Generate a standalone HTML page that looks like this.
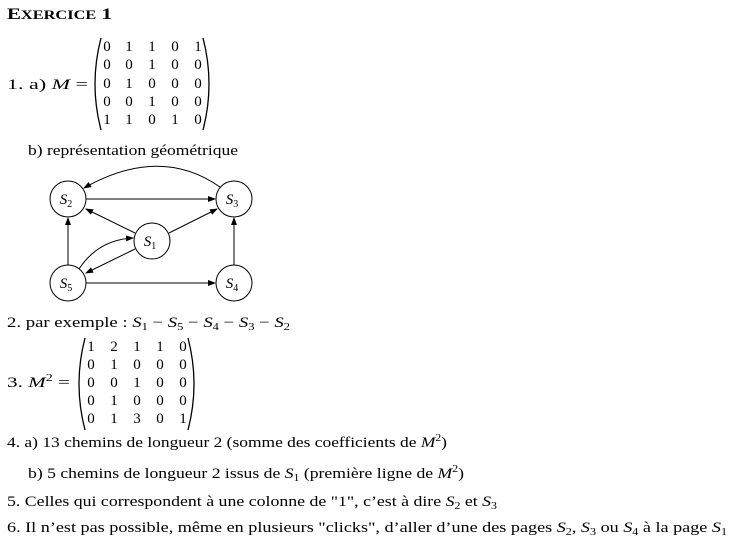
<!DOCTYPE html>
<html><head><meta charset="utf-8"><style>
html,body{margin:0;padding:0;background:#fff}
svg{display:block}
text{font-family:"Liberation Serif",serif;font-size:15px;fill:#000}
.i{font-style:italic}
.s{font-size:10px}
</style></head><body>
<svg width="729" height="548" viewBox="0 0 729 548" xmlns="http://www.w3.org/2000/svg">
<defs><marker id="a" markerWidth="8" markerHeight="6" refX="7" refY="3" orient="auto" markerUnits="userSpaceOnUse"><path d="M0,0 L8,3 L0,6 z" fill="#000"/></marker></defs>
<text x="7" y="19" style="font-weight:bold;font-size:16px" textLength="105" lengthAdjust="spacingAndGlyphs">E<tspan style="font-size:12.5px">XERCICE</tspan> 1</text>

<text x="7" y="89" textLength="81" lengthAdjust="spacingAndGlyphs">1.  a)  <tspan class="i">M</tspan> =</text>
<path d="M101,38 Q89,84 101,130" fill="none" stroke="#000" stroke-width="1.3"/>
<path d="M203,38 Q215,84 203,130" fill="none" stroke="#000" stroke-width="1.3"/>
<g text-anchor="middle">
<text y="51"><tspan x="107">0</tspan><tspan x="129">1</tspan><tspan x="152">1</tspan><tspan x="175">0</tspan><tspan x="198">1</tspan></text>
<text y="69"><tspan x="107">0</tspan><tspan x="129">0</tspan><tspan x="152">1</tspan><tspan x="175">0</tspan><tspan x="198">0</tspan></text>
<text y="88"><tspan x="107">0</tspan><tspan x="129">1</tspan><tspan x="152">0</tspan><tspan x="175">0</tspan><tspan x="198">0</tspan></text>
<text y="106"><tspan x="107">0</tspan><tspan x="129">0</tspan><tspan x="152">1</tspan><tspan x="175">0</tspan><tspan x="198">0</tspan></text>
<text y="124"><tspan x="107">1</tspan><tspan x="129">1</tspan><tspan x="152">0</tspan><tspan x="175">1</tspan><tspan x="198">0</tspan></text>
</g>
<text x="28" y="155" textLength="210" lengthAdjust="spacingAndGlyphs">b)  représentation géométrique</text>

<g fill="none" stroke="#000" stroke-width="1">
<circle cx="68" cy="199" r="18"/><circle cx="234" cy="199" r="18"/>
<circle cx="152" cy="241" r="18"/><circle cx="68" cy="283" r="18"/><circle cx="234" cy="283" r="18"/>
<line x1="86" y1="199" x2="215" y2="199" marker-end="url(#a)"/>
<line x1="86" y1="283" x2="215" y2="283" marker-end="url(#a)"/>
<line x1="68" y1="265" x2="68" y2="218" marker-end="url(#a)"/>
<line x1="234" y1="265" x2="234" y2="218" marker-end="url(#a)"/>
<line x1="135" y1="233" x2="86" y2="209" marker-end="url(#a)"/>
<line x1="169" y1="233" x2="217" y2="209" marker-end="url(#a)"/>
<line x1="135" y1="249" x2="86" y2="273" marker-end="url(#a)"/>
<path d="M79,269 Q98,240 133,238" marker-end="url(#a)"/>
<path d="M220,187 Q160,145 84,188" marker-end="url(#a)"/>
</g>
<g class="i" text-anchor="middle">
<text x="66" y="204">S<tspan class="s" dy="3" font-style="normal">2</tspan></text>
<text x="232" y="204">S<tspan class="s" dy="3" font-style="normal">3</tspan></text>
<text x="150" y="246">S<tspan class="s" dy="3" font-style="normal">1</tspan></text>
<text x="66" y="288">S<tspan class="s" dy="3" font-style="normal">5</tspan></text>
<text x="232" y="288">S<tspan class="s" dy="3" font-style="normal">4</tspan></text>
</g>

<text x="7" y="327" textLength="283" lengthAdjust="spacingAndGlyphs">2.  par exemple : <tspan class="i">S</tspan><tspan class="s" dy="3">1</tspan><tspan dy="-3"> − </tspan><tspan class="i">S</tspan><tspan class="s" dy="3">5</tspan><tspan dy="-3"> − </tspan><tspan class="i">S</tspan><tspan class="s" dy="3">4</tspan><tspan dy="-3"> − </tspan><tspan class="i">S</tspan><tspan class="s" dy="3">3</tspan><tspan dy="-3"> − </tspan><tspan class="i">S</tspan><tspan class="s" dy="3">2</tspan></text>

<text x="7" y="387" textLength="63" lengthAdjust="spacingAndGlyphs">3.  <tspan class="i">M</tspan><tspan class="s" dy="-6">2</tspan><tspan dy="6"> =</tspan></text>
<path d="M85,338 Q73,384 85,430" fill="none" stroke="#000" stroke-width="1.3"/>
<path d="M188,338 Q200,384 188,430" fill="none" stroke="#000" stroke-width="1.3"/>
<g text-anchor="middle">
<text y="351"><tspan x="91">1</tspan><tspan x="114">2</tspan><tspan x="137">1</tspan><tspan x="160">1</tspan><tspan x="183">0</tspan></text>
<text y="369"><tspan x="91">0</tspan><tspan x="114">1</tspan><tspan x="137">0</tspan><tspan x="160">0</tspan><tspan x="183">0</tspan></text>
<text y="387"><tspan x="91">0</tspan><tspan x="114">0</tspan><tspan x="137">1</tspan><tspan x="160">0</tspan><tspan x="183">0</tspan></text>
<text y="405"><tspan x="91">0</tspan><tspan x="114">1</tspan><tspan x="137">0</tspan><tspan x="160">0</tspan><tspan x="183">0</tspan></text>
<text y="423"><tspan x="91">0</tspan><tspan x="114">1</tspan><tspan x="137">3</tspan><tspan x="160">0</tspan><tspan x="183">1</tspan></text>
</g>

<text x="7" y="447" textLength="440" lengthAdjust="spacingAndGlyphs">4.  a)  13 chemins de longueur 2 (somme des coefficients de <tspan class="i">M</tspan><tspan class="s" dy="-6">2</tspan><tspan dy="6">)</tspan></text>
<text x="28" y="478" textLength="436" lengthAdjust="spacingAndGlyphs">b)  5 chemins de longueur 2 issus de <tspan class="i">S</tspan><tspan class="s" dy="3">1</tspan><tspan dy="-3"> (première ligne de </tspan><tspan class="i">M</tspan><tspan class="s" dy="-6">2</tspan><tspan dy="6">)</tspan></text>
<text x="7" y="506" textLength="490" lengthAdjust="spacingAndGlyphs">5.  Celles qui correspondent à une colonne de "1", c’est à dire <tspan class="i">S</tspan><tspan class="s" dy="3">2</tspan><tspan dy="-3"> et </tspan><tspan class="i">S</tspan><tspan class="s" dy="3">3</tspan></text>
<text x="7" y="532" textLength="720" lengthAdjust="spacingAndGlyphs">6.  Il n’est pas possible, même en plusieurs "clicks", d’aller d’une des pages <tspan class="i">S</tspan><tspan class="s" dy="3">2</tspan><tspan dy="-3">, </tspan><tspan class="i">S</tspan><tspan class="s" dy="3">3</tspan><tspan dy="-3"> ou </tspan><tspan class="i">S</tspan><tspan class="s" dy="3">4</tspan><tspan dy="-3"> à la page </tspan><tspan class="i">S</tspan><tspan class="s" dy="3">1</tspan></text>
</svg>
</body></html>
